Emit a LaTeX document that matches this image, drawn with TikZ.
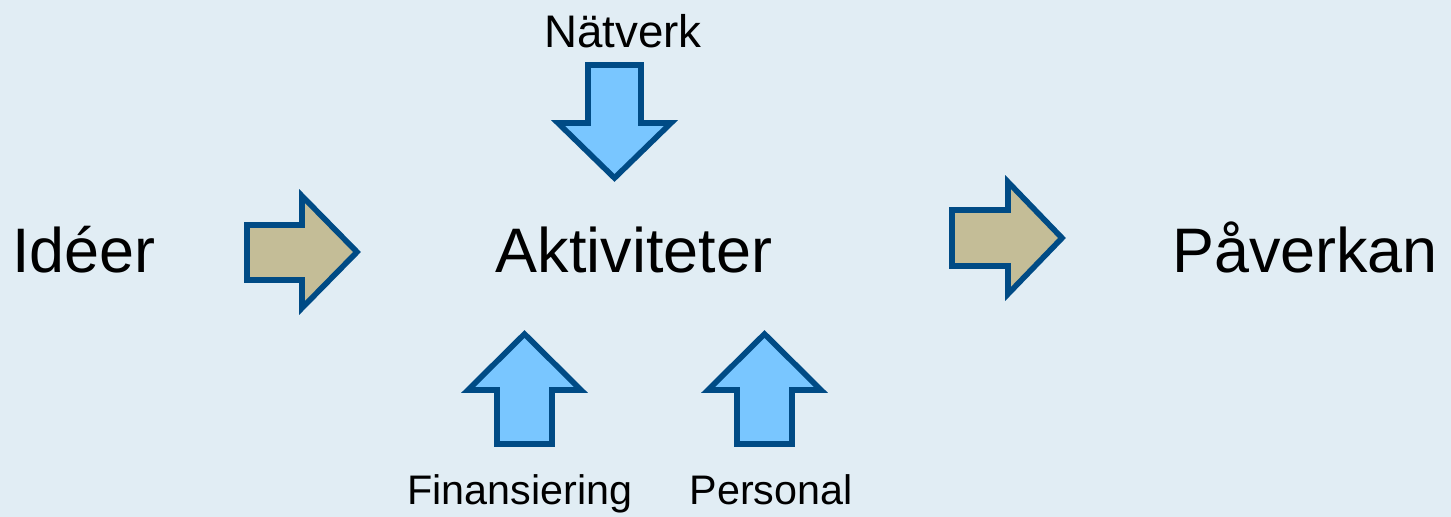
\documentclass[tikz,border=0pt]{standalone}
\usepackage{fontspec}
\setmainfont{Liberation Sans}
\usepackage{tikz}
\definecolor{bgblue}{HTML}{E1EDF4}
\definecolor{rimblue}{HTML}{004B85}
\definecolor{tanfill}{HTML}{C4BD97}
\definecolor{skyfill}{HTML}{79C6FF}
\tikzset{
  bigtxt/.style={inner sep=0pt,anchor=base,font=\fontsize{35.8}{40}\selectfont},
  smalltxt/.style={inner sep=0pt,anchor=base,font=\fontsize{23.5}{27}\selectfont},
  tanarrow/.style={draw=rimblue,fill=tanfill,line width=3.2pt,line join=miter},
  bluearrow/.style={draw=rimblue,fill=skyfill,line width=3.2pt,line join=miter}
}

\begin{document}
\begin{tikzpicture}[x=0.02cm,y=-0.02cm]
    \fill[bgblue] (0,0) rectangle (1451,517);
    \useasboundingbox (0,0) rectangle (1451,517);
    %texts
    \node[bigtxt,anchor=base west] (ideer) at (12,272) {Idéer};
    \node[bigtxt] (aktiviteter) at (634,272) {Aktiviteter};
    \node[bigtxt] (paverkan) at (1305,272) {Påverkan};
    \node[smalltxt,font=\fontsize{26}{30}\selectfont] (natverk) at (623,48) {Nätverk};
    \node[smalltxt] (finansiering) at (520,504) {Finansiering};
    \node[smalltxt] (personal) at (771,504) {Personal};
    %block arrows to the right
    \draw[tanarrow] (247,225) -- (302,225) -- (302,196) -- (357,252) -- (302,308)
        -- (302,280) -- (247,280) -- cycle;
    \draw[tanarrow] (952,210) -- (1008,210) -- (1008,182) -- (1062,238) -- (1008,294)
        -- (1008,266) -- (952,266) -- cycle;
    %block arrow down
    \draw[bluearrow] (588,65) -- (641,65) -- (641,123) -- (671,123) -- (614.5,178)
        -- (558,123) -- (588,123) -- cycle;
    %block arrows up
    \foreach \cx in {524.5,764.5}{
        \draw[bluearrow] (\cx-27.5,444) -- (\cx-27.5,390) -- (\cx-56.5,390) -- (\cx,334)
            -- (\cx+56.5,390) -- (\cx+27.5,390) -- (\cx+27.5,444) -- cycle;
    }
\end{tikzpicture}
\end{document}
